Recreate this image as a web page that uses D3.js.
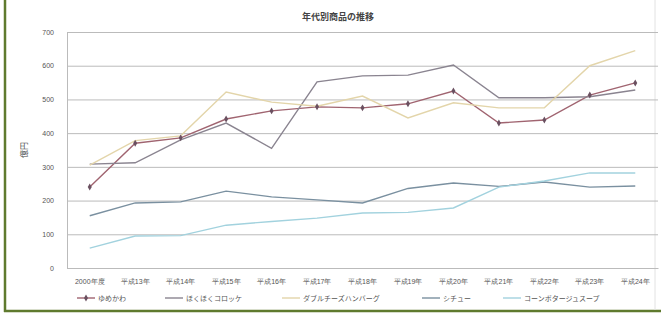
<!DOCTYPE html>
<html>
<head>
<meta charset="utf-8">
<script src="https://cdn.jsdelivr.net/npm/d3@7"></script>
<style>
  body { margin: 0; background: #fff; }
  svg { display: block; font-family: "Noto Sans CJK JP", sans-serif; }
  .axis text { fill: #555; font-size: 7px; }
  .axis path, .axis line { stroke: #bbb; }
</style>
</head>
<body>
<div id="chart"></div>
<script>
"use strict";
(function() {

const WIDTH = 661
const HEIGHT = 316
const margin = { top: 32, bottom: 48, left: 67, right: 3 }

const TITLE = "年代別商品の推移"
const Y_TITLE = "億円"

const years = ["2000年度", "平成13年", "平成14年", "平成15年", "平成16年", "平成17年", "平成18年",
               "平成19年", "平成20年", "平成21年", "平成22年", "平成23年", "平成24年"]
const yTicks = [0, 100, 200, 300, 400, 500, 600, 700]

const names = ["ゆめかわ", "ほくほくコロッケ", "ダブルチーズハンバーグ", "シチュー", "コーンポタージュスープ"]
const colors = ["#a06470", "#8a8490", "#e3d5aa", "#7a90a0", "#a2d2de"]

const yumekawa = [240, 370, 386, 442, 466, 478, 475, 487, 525, 430, 439, 513, 549]
const korokke  = [308, 312, 380, 430, 355, 552, 570, 572, 602, 505, 505, 508, 528]
const burger   = [305, 378, 392, 522, 492, 480, 510, 445, 490, 475, 475, 600, 645]
const stew     = [155, 193, 196, 228, 211, 202, 193, 236, 252, 242, 255, 240, 243]
const soup     = [ 59,  95,  96, 127, 138, 148, 163, 165, 178, 240, 258, 282, 282]

const series = [yumekawa, korokke, burger, stew, soup]

const legendX = [77, 165, 282, 422, 503]

var svg = d3.select("#chart").append("svg")
    .attr("width", WIDTH)
    .attr("height", HEIGHT)

// frame
svg.append("rect").attr("x", 0).attr("y", 0).attr("width", WIDTH).attr("height", HEIGHT).attr("fill", "#fff")
svg.append("line").attr("x1", 5).attr("x2", 5).attr("y1", 0).attr("y2", 312)
    .attr("stroke", "#5f7a2e").attr("stroke-width", 2.5)
svg.append("line").attr("x1", 4).attr("x2", WIDTH).attr("y1", 311).attr("y2", 311)
    .attr("stroke", "#5f7a2e").attr("stroke-width", 2.5)
svg.append("line").attr("x1", 655).attr("x2", 655).attr("y1", 0).attr("y2", 310)
    .attr("stroke", "#e2e2e2")

let x = d3.scaleBand().domain(years).range([margin.left, WIDTH - margin.right])
let y = d3.scaleLinear().domain([0, 700]).range([HEIGHT - margin.bottom, margin.top])
let cx = d => x(d) + x.bandwidth() / 2

// grid + y axis
let gy = svg.append("g")
    .attr("class", "axis")
    .attr("transform", `translate(${margin.left},0)`)
    .call(d3.axisLeft(y).tickValues(yTicks).tickSize(-(WIDTH - margin.left - margin.right)).tickPadding(12))
gy.select(".domain").attr("stroke", "#bbb")
gy.selectAll(".tick line").attr("stroke", d => d === 700 ? "#b0b0b0" : "#d4d4d4")
gy.selectAll(".tick text").attr("x", -13)

// x axis
let gx = svg.append("g")
    .attr("class", "axis")
    .attr("transform", `translate(0,${y(0)})`)
    .call(d3.axisBottom(x).tickSize(0).tickPadding(11))
gx.select(".domain").attr("stroke", "#aaa")

// title
svg.append("text").text(TITLE)
    .attr("x", 338).attr("y", 20)
    .attr("text-anchor", "middle")
    .attr("font-size", "9px")
    .attr("font-weight", "bold")
    .attr("fill", "#444")

svg.append("text").text(Y_TITLE)
    .attr("transform", `translate(27, ${y(350)}) rotate(-90)`)
    .attr("text-anchor", "middle")
    .attr("font-size", "8px")
    .attr("fill", "#444")

// lines
let line = d3.line().x((d, i) => cx(years[i])).y(d => y(d))

series.forEach((vals, k) => {
    svg.append("path")
        .datum(vals)
        .attr("d", line)
        .attr("fill", "none")
        .attr("stroke", colors[k])
        .attr("stroke-width", 1.4)
})

// markers on the first series
svg.selectAll(".mark")
    .data(yumekawa)
    .join("path")
    .attr("class", "mark")
    .attr("d", d3.symbol(d3.symbolDiamond, 14))
    .attr("transform", (d, i) => `translate(${cx(years[i])},${y(d)})`)
    .attr("fill", "#6a5060")

// legend
let lg = svg.append("g").attr("transform", "translate(0,298)")
names.forEach((n, k) => {
    let g = lg.append("g").attr("transform", `translate(${legendX[k]},0)`)
    g.append("line").attr("x1", 0).attr("x2", 18).attr("y1", 0).attr("y2", 0)
        .attr("stroke", colors[k]).attr("stroke-width", 1.4)
    if (k === 0) {
        g.append("path").attr("d", d3.symbol(d3.symbolDiamond, 14))
            .attr("transform", "translate(9,0)").attr("fill", "#6a5060")
    }
    g.append("text").text(n)
        .attr("x", 21).attr("y", 2.5)
        .attr("font-size", "7px")
        .attr("fill", "#555")
})

})();
</script>
</body>
</html>
